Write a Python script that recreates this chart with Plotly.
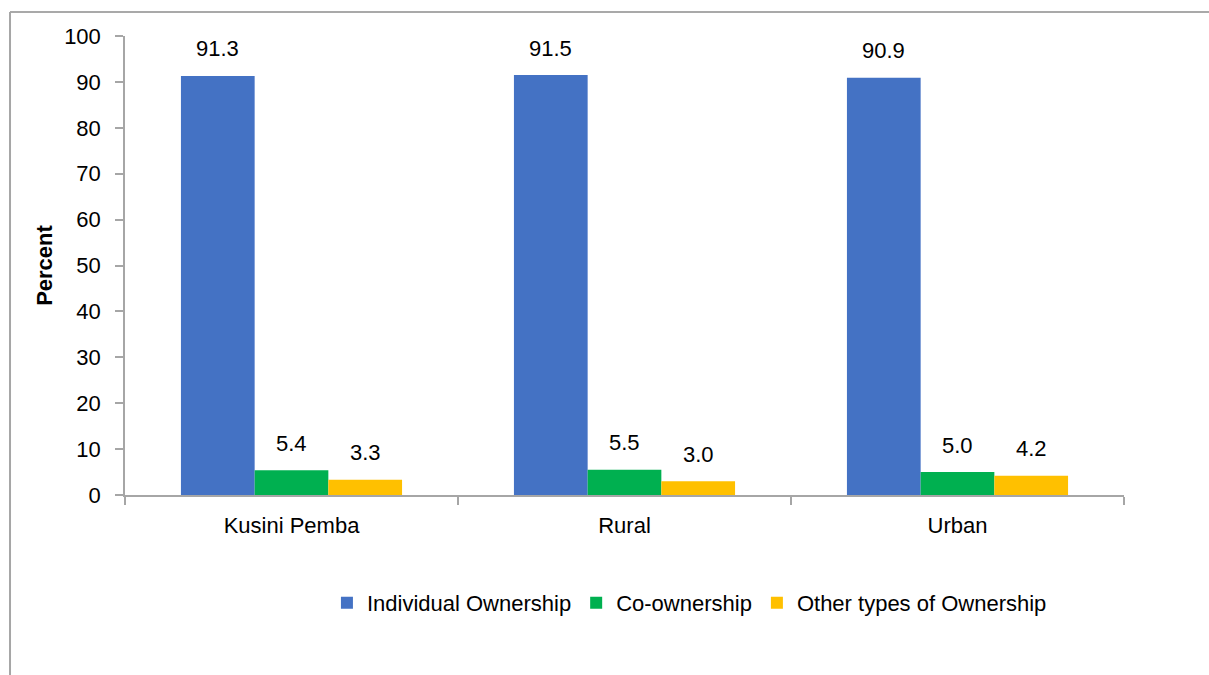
import plotly.graph_objects as go

# Ownership shares by area (percent)
areas = ["Kusini Pemba", "Rural", "Urban"]
individual = [91.3, 91.5, 90.9]
co_ownership = [5.4, 5.5, 5.0]
other_types = [3.3, 3.0, 4.2]

series_names = ["Individual Ownership", "Co-ownership", "Other types of Ownership"]
series_values = [individual, co_ownership, other_types]
series_colors = ["#4472C4", "#00B050", "#FFC000"]

FONT = "Liberation Sans, Arial, sans-serif"
AXIS_GREY = "#A6A6A6"
FS = 22

fig = go.Figure()
for name, vals, col in zip(series_names, series_values, series_colors):
    fig.add_trace(go.Bar(
        name=name, x=areas, y=vals,
        marker=dict(color=col, line=dict(width=0)),
    ))

# value labels above each bar
bar_px = 74
offsets = [-bar_px, 0, bar_px]
for vals, dx in zip(series_values, offsets):
    for cat, v in zip(areas, vals):
        fig.add_annotation(
            x=cat, y=v, xref="x", yref="y",
            text=f"{v:.1f}", showarrow=False,
            xshift=dx, yshift=27, yanchor="middle",
            font=dict(family=FONT, size=FS, color="#000000"),
        )

# outer frame lines (top and left)
fig.add_shape(type="line", xref="paper", yref="paper",
              x0=-0.1151, x1=1.09, y0=1.0523, y1=1.0523,
              line=dict(color="#8C8C8C", width=1.5))
fig.add_shape(type="line", xref="paper", yref="paper",
              x0=-0.1151, x1=-0.1151, y0=1.0523, y1=-0.40,
              line=dict(color="#A6A6A6", width=2))

fig.update_layout(
    width=1209, height=675,
    margin=dict(l=125, r=85, t=36, b=180),
    paper_bgcolor="white", plot_bgcolor="white",
    barmode="group", bargap=0.336, bargroupgap=0,
    font=dict(family=FONT, size=FS, color="#000000"),
    showlegend=True,
    legend=dict(
        orientation="h", x=0.565, xanchor="center",
        y=-0.235, yanchor="middle",
        font=dict(family=FONT, size=FS, color="#000000"),
        itemwidth=30, tracegroupgap=0,
    ),
    xaxis=dict(
        showline=True, linecolor=AXIS_GREY, linewidth=1.5,
        ticks="outside", tickson="boundaries", ticklen=8,
        tickcolor=AXIS_GREY, tickwidth=1.5,
        showgrid=False, tickfont=dict(size=FS),
        ticklabelstandoff=10,
    ),
    yaxis=dict(
        range=[0, 100], dtick=10,
        showline=True, linecolor=AXIS_GREY, linewidth=1.5,
        ticks="outside", ticklen=8, tickcolor=AXIS_GREY, tickwidth=1.5,
        showgrid=False, zeroline=False, tickfont=dict(size=FS),
        ticklabelstandoff=10,
        title=dict(text="<b>Percent</b>", font=dict(size=22), standoff=5),
    ),
)

fig.write_html("out.html")
